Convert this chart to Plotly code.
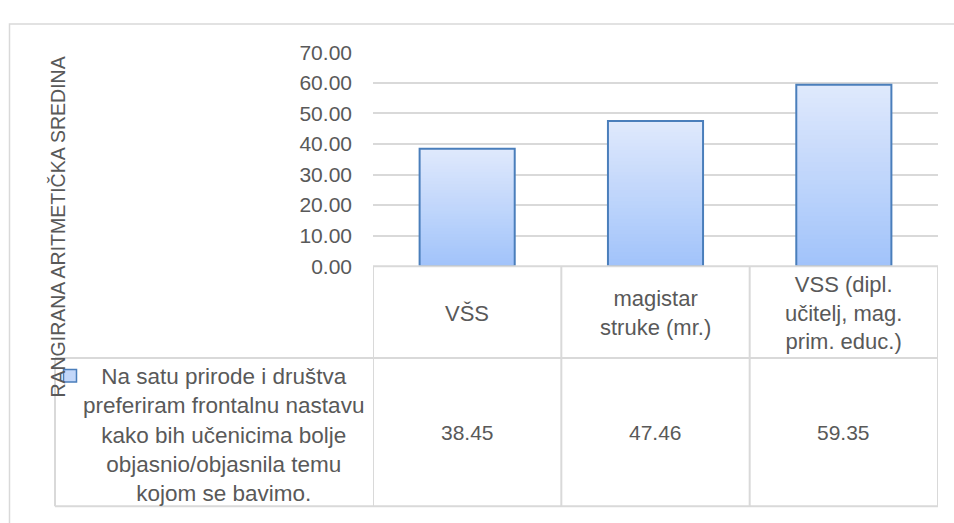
import plotly.graph_objects as go

# ---- data ----
categories = ["VŠS", "magistar struke (mr.)", "VSS (dipl. učitelj, mag. prim. educ.)"]
category_labels = ["VŠS", "magistar<br>struke (mr.)", "VSS (dipl.<br>učitelj, mag.<br>prim. educ.)"]
values = [38.45, 47.46, 59.35]
series_name_lines = [
    "Na satu prirode i društva",
    "preferiram frontalnu nastavu",
    "kako bih učenicima bolje",
    "objasnio/objasnila temu",
    "kojom se bavimo.",
]
y_title = "RANGIRANA ARITMETIČKA SREDINA"
y_ticks = [0, 10, 20, 30, 40, 50, 60, 70]

# ---- layout helpers (pixel -> paper) ----
W, H = 954, 523
def px(x):
    return x / W
def py(y):
    return 1 - y / H

TEXT = "#595959"
GRID = "#d9d9d9"
BORDER = "#4a7ebb"
FONT_TBL = "Liberation Sans, Arial, sans-serif"

top_rgb = (223, 233, 252)
bot_rgb = (160, 194, 250)

fig = go.Figure()

# gradient fill built from overlaid bars (tallest/lightest first)
N = 40
n_cat = len(categories)
for k in range(N):
    frac = (N - k) / N
    t = frac
    r = round(bot_rgb[0] + (top_rgb[0] - bot_rgb[0]) * t)
    g = round(bot_rgb[1] + (top_rgb[1] - bot_rgb[1]) * t)
    b = round(bot_rgb[2] + (top_rgb[2] - bot_rgb[2]) * t)
    fig.add_trace(go.Bar(
        x=list(range(n_cat)),
        y=[v * frac for v in values],
        marker=dict(color=f"rgb({r},{g},{b})", line=dict(width=0)),
        showlegend=False,
        hoverinfo="skip",
    ))

# outline
fig.add_trace(go.Bar(
    x=list(range(n_cat)),
    y=values,
    marker=dict(color="rgba(0,0,0,0)", line=dict(color=BORDER, width=2)),
    name=" ".join(series_name_lines),
    showlegend=False,
))

shapes = []
shapes.append(dict(type="rect", xref="paper", yref="paper",
                   x0=px(9.5), x1=1.05, y0=-0.05, y1=py(12.5),
                   line=dict(color=GRID, width=1.5), fillcolor="rgba(0,0,0,0)", layer="below"))
line_style = dict(color=GRID, width=2)
shapes.append(dict(type="line", xref="x", yref="paper", x0=-0.5, x1=n_cat - 0.5,
                   y0=py(266), y1=py(266), line=line_style))
shapes.append(dict(type="line", xref="paper", yref="paper", x0=px(55), x1=px(938),
                   y0=py(362), y1=py(362), line=line_style))
shapes.append(dict(type="line", xref="paper", yref="paper", x0=px(55), x1=px(938),
                   y0=py(517), y1=py(517), line=line_style))
for i in range(n_cat + 1):
    shapes.append(dict(type="line", xref="x", yref="paper", x0=i - 0.5, x1=i - 0.5,
                       y0=py(266), y1=py(517), line=line_style))
shapes.append(dict(type="line", xref="paper", yref="paper", x0=px(55), x1=px(55),
                   y0=py(362), y1=py(517), line=line_style))
shapes.append(dict(type="rect", xref="paper", yref="paper",
                   x0=px(63.5), x1=px(76.5), y0=py(387), y1=py(374),
                   fillcolor="#c3d7f9", line=dict(color=BORDER, width=1.5)))

annotations = []
for i, lab in enumerate(category_labels):
    annotations.append(dict(x=i, xref="x", y=py(315), yref="paper", text=lab,
                            showarrow=False, align="center", xanchor="center", yanchor="middle",
                            font=dict(family=FONT_TBL, size=22, color=TEXT)))
for i, v in enumerate(values):
    annotations.append(dict(x=i, xref="x", y=py(440), yref="paper", text=f"{v:.2f}",
                            showarrow=False, xanchor="center", yanchor="middle",
                            font=dict(family=FONT_TBL, size=21, color=TEXT)))
annotations.append(dict(x=px(223), xref="paper", y=py(442), yref="paper",
                        text="<br>".join(series_name_lines), showarrow=False, align="center",
                        xanchor="center", yanchor="middle",
                        font=dict(family=FONT_TBL, size=22.5, color=TEXT)))
annotations.append(dict(x=px(58.5), xref="paper", y=py(225), yref="paper", text=y_title,
                        textangle=-90, showarrow=False, xanchor="center", yanchor="middle",
                        font=dict(family=FONT_TBL, size=19.5, color=TEXT)))

fig.update_layout(
    width=W, height=H,
    margin=dict(l=0, r=0, t=0, b=0),
    paper_bgcolor="white", plot_bgcolor="white",
    barmode="overlay", bargap=0.495,
    showlegend=False,
    shapes=shapes, annotations=annotations,
    xaxis=dict(domain=[px(373), px(938)], range=[-0.5, n_cat - 0.5],
               showticklabels=False, showgrid=False, zeroline=False, showline=False, ticks=""),
    yaxis=dict(domain=[py(266), py(42)], range=[0, 70], tickvals=y_ticks,
               tickformat=".2f", showgrid=True, gridcolor=GRID, gridwidth=1.75,
               zeroline=False, showline=False, ticks="", ticklabelstandoff=20,
               tickfont=dict(family=FONT_TBL, size=21, color=TEXT)),
)

fig.write_html(
    "out.html",
    config={"displayModeBar": False},
    post_script="document.body.style.margin='0';document.body.style.overflow='hidden';",
)
